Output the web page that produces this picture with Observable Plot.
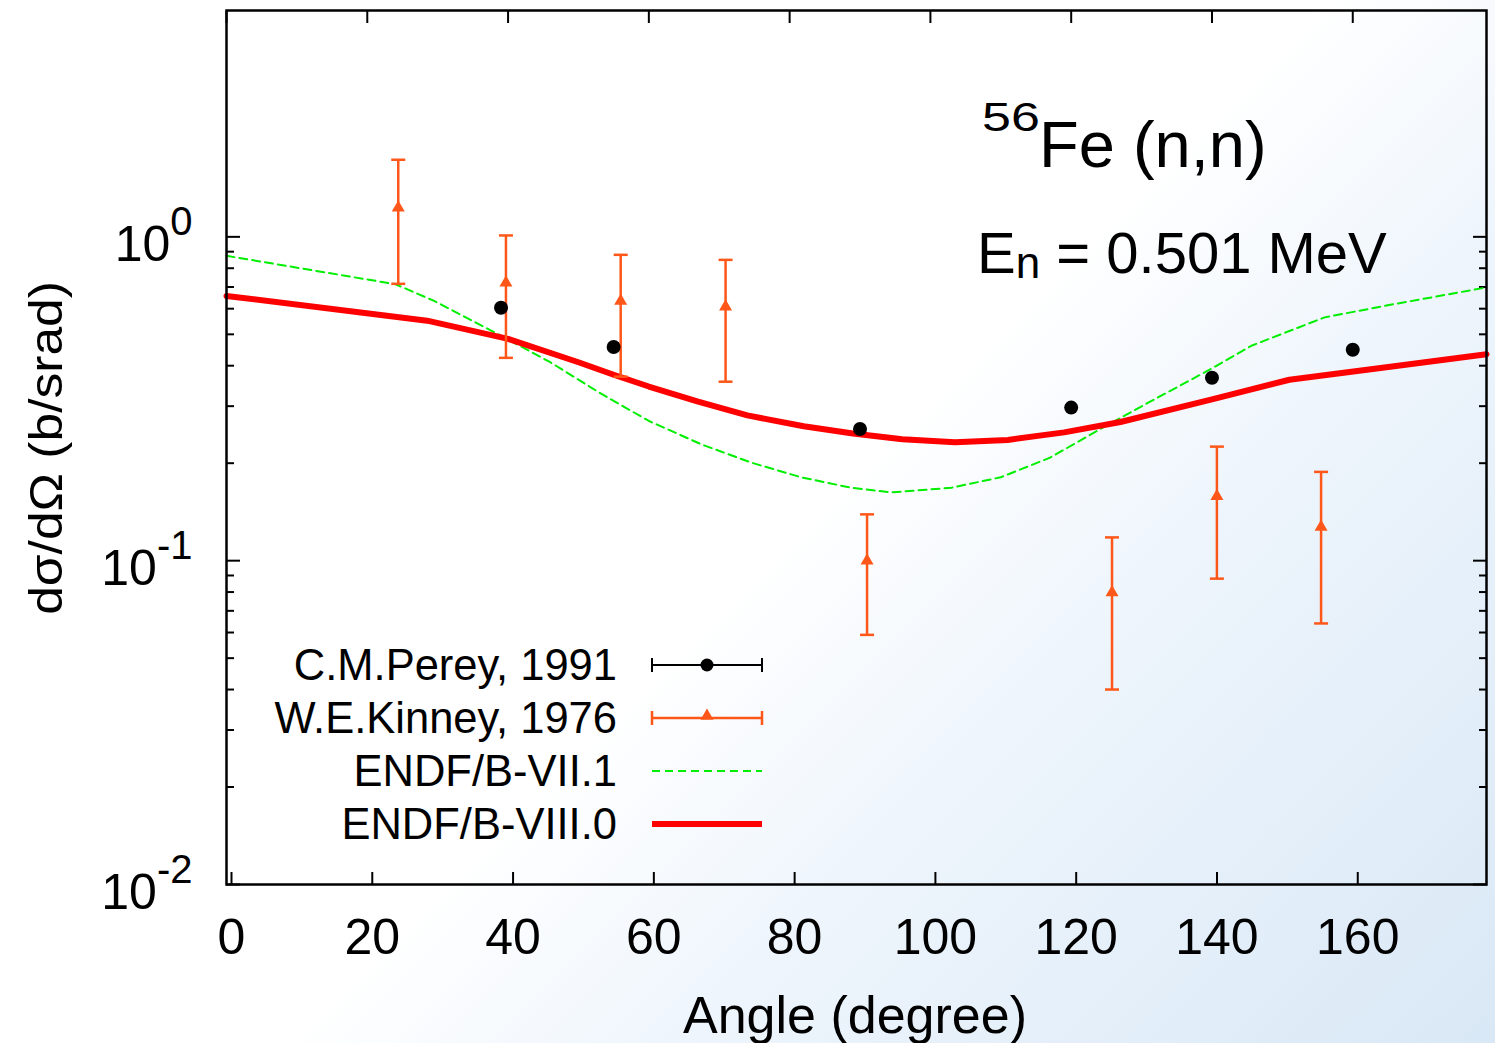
<!DOCTYPE html>
<html>
<head>
<meta charset="utf-8">
<script src="https://cdn.jsdelivr.net/npm/d3@7"></script>
<script src="https://cdn.jsdelivr.net/npm/@observablehq/plot@0.6"></script>
<style>
  html, body { margin: 0; padding: 0; }
  #wrap {
    position: relative; width: 1495px; height: 1043px; overflow: hidden;
    background: linear-gradient(135deg, #ffffff 0%, #ffffff 52%, #eef5fc 68%, #d9e8f6 100%);
    font-family: "Liberation Sans", Arial, Helvetica, sans-serif;
  }
  #wrap svg { position: absolute; left: 0; top: 0; }
</style>
</head>
<body>
<div id="wrap"></div>
<script>
// ---- Data ----
// C.M.Perey, 1991
const pereyAngle = [39, 55, 90, 120, 140, 160];
const pereyXS    = [0.604, 0.457, 0.255, 0.297, 0.367, 0.448];

// W.E.Kinney, 1976 (value with lower / upper error bounds)
const kinneyAngle = [24.4, 39.7, 56.0, 70.9, 91.0, 125.8, 140.7, 155.5];
const kinneyXS    = [1.23, 0.721, 0.634, 0.608, 0.100, 0.0797, 0.158, 0.127];
const kinneyLo    = [0.716, 0.423, 0.370, 0.357, 0.059, 0.040, 0.088, 0.064];
const kinneyHi    = [1.73, 1.01, 0.880, 0.849, 0.139, 0.118, 0.225, 0.188];

// ENDF/B-VII.1 (dashed green)
const endf71Angle = [0, 24, 29.5, 39, 46, 53, 60, 67.4, 74.5, 81.6, 88.7, 94.4, 103, 110, 117, 124, 131, 139.4, 145.6, 156, 164.5, 179];
const endf71XS    = [0.874, 0.714, 0.634, 0.495, 0.41, 0.33, 0.27, 0.229, 0.201, 0.181, 0.168, 0.1625, 0.168, 0.181, 0.208, 0.254, 0.308, 0.386, 0.461, 0.564, 0.612, 0.698];

// ENDF/B-VIII.0 (solid red)
const endf80Angle = [0, 28.5, 40, 50, 55, 60, 67, 74, 82, 89, 96, 103.5, 111, 119, 127, 140, 151, 164.5, 179];
const endf80XS    = [0.657, 0.551, 0.484, 0.41, 0.375, 0.345, 0.31, 0.281, 0.26, 0.247, 0.237, 0.232, 0.236, 0.249, 0.268, 0.315, 0.362, 0.395, 0.434];

// Axes
const xTicks = [0, 20, 40, 60, 80, 100, 120, 140, 160];
const yMajor = [0.01, 0.1, 1];
const yMinor = [2,3,4,5,6,7,8,9].flatMap(m => [0.01*m, 0.1*m]);
const xDomain = [0, 179];
const yDomain = [0.01, 5];

// Legend labels
const legendLabels = ["C.M.Perey, 1991", "W.E.Kinney, 1976", "ENDF/B-VII.1", "ENDF/B-VIII.0"];

// ---- Tables ----
const perey = pereyAngle.map((a, i) => ({angle: a, xs: pereyXS[i]}));
const kinney = kinneyAngle.map((a, i) => ({angle: a, xs: kinneyXS[i], lo: kinneyLo[i], hi: kinneyHi[i]}));
const endf71 = endf71Angle.map((a, i) => ({angle: a, xs: endf71XS[i]}));
const endf80 = endf80Angle.map((a, i) => ({angle: a, xs: endf80XS[i]}));

const ORANGE = "#ff5719";
const GREEN = "#00ee00";
const RED = "#ff0000";

// horizontal error-bar cap symbol
const capSymbol = {
  draw(context, size) {
    const r = Math.sqrt(size / Math.PI);
    context.moveTo(-r, 0);
    context.lineTo(r, 0);
  }
};

const chart = Plot.plot({
  width: 1495,
  height: 1043,
  marginLeft: 226,
  marginRight: 9,
  marginTop: 10,
  marginBottom: 159,
  style: {background: "transparent", fontFamily: "'Liberation Sans', Arial, sans-serif", color: "black", overflow: "visible"},
  x: {domain: xDomain},
  y: {type: "log", domain: yDomain},
  marks: [
    // ticks (inward)
    Plot.axisX(xTicks, {anchor: "bottom", tickSize: -12, tickPadding: 46, tickFormat: d => String(d), label: null, fontSize: 50, dx: 5, strokeWidth: 2}),
    Plot.axisX(xTicks, {anchor: "top", tickSize: -12, tickFormat: () => "", label: null, strokeWidth: 2}),
    Plot.axisY(yMajor, {anchor: "left", tickSize: -14, tickPadding: 48, tickFormat: d => String(Math.round(Math.log10(d))), label: null, fontSize: 50, strokeWidth: 2}),
    Plot.axisY(yMinor, {anchor: "left", tickSize: -8, tickFormat: () => "", label: null, strokeWidth: 2}),
    Plot.axisY(yMajor, {anchor: "right", tickSize: -14, tickFormat: () => "", label: null, strokeWidth: 2}),
    Plot.axisY(yMinor, {anchor: "right", tickSize: -8, tickFormat: () => "", label: null, strokeWidth: 2}),
    // evaluations
    Plot.line(endf71, {x: "angle", y: "xs", stroke: GREEN, strokeWidth: 2, strokeDasharray: "8,5"}),
    Plot.line(endf80, {x: "angle", y: "xs", stroke: RED, strokeWidth: 6}),
    // Kinney data with error bars
    Plot.ruleX(kinney, {x: "angle", y1: "lo", y2: "hi", stroke: ORANGE, strokeWidth: 2.5}),
    Plot.dot(kinney, {x: "angle", y: "lo", symbol: capSymbol, r: 7, stroke: ORANGE, strokeWidth: 2.5, fill: "none"}),
    Plot.dot(kinney, {x: "angle", y: "hi", symbol: capSymbol, r: 7, stroke: ORANGE, strokeWidth: 2.5, fill: "none"}),
    Plot.dot(kinney, {x: "angle", y: "xs", symbol: "triangle2", r: 6.2, fill: ORANGE, stroke: "none"}),
    // Perey data
    Plot.dot(perey, {x: "angle", y: "xs", r: 7, fill: "black", stroke: "none"}),
    Plot.frame({stroke: "black", strokeWidth: 2.5})
  ]
});

document.getElementById("wrap").appendChild(chart);

// drop the empty labels of tick-only axes
d3.select(chart).selectAll("text").filter(function() { return this.textContent === ""; }).remove();

// y tick labels as 10^n with superscript exponents
d3.select(chart).selectAll('g[aria-label="y-axis tick label"] text').each(function() {
  const t = d3.select(this);
  const e = t.text();
  t.text("");
  t.attr("dy", null).attr("y", null);
  t.append("tspan").attr("dy", "24").text("10");
  t.append("tspan").attr("dy", "-26").attr("font-size", "40").text(e);
});

// ---- Overlay: titles, annotations, legend ----
const ns = "http://www.w3.org/2000/svg";
const ov = d3.select("#wrap").append("svg")
  .attr("xmlns", ns).attr("width", 1495).attr("height", 1043)
  .style("font-family", "'Liberation Sans', Arial, sans-serif")
  .style("pointer-events", "none");

ov.append("text").attr("x", 855).attr("y", 1033).attr("text-anchor", "middle")
  .attr("font-size", 52).text("Angle (degree)");

ov.append("text").attr("transform", "translate(62,448) rotate(-90) scale(1.12,1)").attr("text-anchor", "middle")
  .attr("font-size", 46).text("dσ/dΩ (b/srad)");

// reaction annotation
ov.append("text").attr("transform", "translate(982,131) scale(1.3,1)").attr("font-size", 40).text("56");
ov.append("text").attr("x", 1039).attr("y", 167).attr("font-size", 65).text("Fe (n,n)");
const en = ov.append("text").attr("x", 977).attr("y", 273).attr("font-size", 58);
en.append("tspan").text("E");
en.append("tspan").attr("font-size", 44).attr("dy", 5).text("n");
en.append("tspan").attr("dy", -5).text(" = 0.501 MeV");

// legend
const rowY = [665, 718, 771, 824];
const lx1 = 652, lx2 = 762, lxm = 707;
const lg = ov.append("g");
legendLabels.forEach((lab, i) => {
  lg.append("text").attr("x", 617).attr("y", rowY[i] + 15).attr("text-anchor", "end")
    .attr("font-size", 43.5).text(lab);
});
// error-bar samples
[[0, "black", 2], [1, ORANGE, 2.5]].forEach(([i, c, w]) => {
  const y = rowY[i];
  lg.append("line").attr("x1", lx1).attr("x2", lx2).attr("y1", y).attr("y2", y).attr("stroke", c).attr("stroke-width", w);
  lg.append("line").attr("x1", lx1).attr("x2", lx1).attr("y1", y - 7).attr("y2", y + 7).attr("stroke", c).attr("stroke-width", w);
  lg.append("line").attr("x1", lx2).attr("x2", lx2).attr("y1", y - 7).attr("y2", y + 7).attr("stroke", c).attr("stroke-width", w);
});
lg.append("circle").attr("cx", lxm).attr("cy", rowY[0]).attr("r", 6.5).attr("fill", "black");
lg.append("path").attr("transform", `translate(${lxm},${rowY[1] - 2})`)
  .attr("d", d3.symbol(d3.symbolTriangle2, Math.PI * 6.2 * 6.2)()).attr("fill", ORANGE);
lg.append("line").attr("x1", lx1).attr("x2", lx2).attr("y1", rowY[2]).attr("y2", rowY[2])
  .attr("stroke", GREEN).attr("stroke-width", 2).attr("stroke-dasharray", "8,5");
lg.append("line").attr("x1", lx1).attr("x2", lx2).attr("y1", rowY[3]).attr("y2", rowY[3])
  .attr("stroke", RED).attr("stroke-width", 6);
</script>
</body>
</html>
